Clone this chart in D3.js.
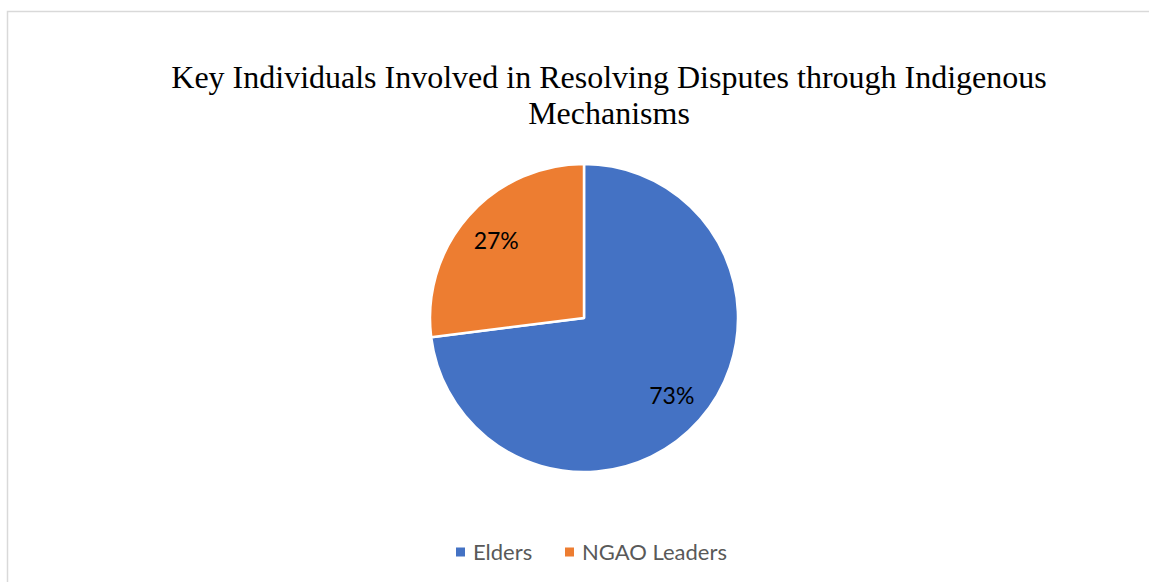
<!DOCTYPE html>
<html>
<head>
<meta charset="utf-8">
<script src="https://cdn.jsdelivr.net/npm/d3@7"></script>
<style>
  body { margin: 0; background: #fff; }
</style>
</head>
<body>
<div id="chart"></div>
<script>
var width = 1149;
var height = 582;

// chart data
var categories = ["Elders", "NGAO Leaders"];
var shares = [73, 27];
var colors = ["#4472C4", "#ED7D31"];
var titleLines = ["Key Individuals Involved in Resolving Disputes through Indigenous", "Mechanisms"];

var cx = 584, cy = 318, radius = 154;

var svg = d3.select("#chart")
    .append("svg")
    .attr("width", width)
    .attr("height", height);

// chart area border
svg.append("rect")
    .attr("x", 7.5)
    .attr("y", 11.5)
    .attr("width", width + 20)
    .attr("height", height + 20)
    .attr("fill", "#fff")
    .attr("stroke", "#D9D9D9")
    .attr("stroke-width", 1.5);

// title
svg.append("g")
    .selectAll("text")
    .data(titleLines)
    .enter()
    .append("text")
    .attr("x", 609)
    .attr("y", function (d, i) { return 87.5 + i * 36.5; })
    .attr("text-anchor", "middle")
    .style("font-family", "'Liberation Serif', 'Times New Roman', serif")
    .style("font-size", "32px")
    .style("fill", "#000")
    .text(function (d) { return d; });

var pieData = categories.map(function (c, i) {
    return { name: c, value: shares[i], color: colors[i] };
});

var pie = d3.pie()
    .sort(null)
    .value(function (d) { return d.value; });

var arc = d3.arc().innerRadius(0).outerRadius(radius);
var labelArc = d3.arc().innerRadius(117).outerRadius(117);

var g = svg.append("g")
    .attr("transform", "translate(" + cx + "," + cy + ")");

var slices = pie(pieData);

g.selectAll("path")
    .data(slices)
    .enter()
    .append("path")
    .attr("d", arc)
    .attr("fill", function (d) { return d.data.color; })
    .attr("stroke", "#fff")
    .attr("stroke-width", 2.5)
    .attr("stroke-linejoin", "round");

g.selectAll(".label")
    .data(slices)
    .enter()
    .append("text")
    .attr("class", "label")
    .attr("transform", function (d) { return "translate(" + labelArc.centroid(d) + ")"; })
    .attr("text-anchor", "middle")
    .attr("dy", "0.36em")
    .style("font-family", "Lato, 'Open Sans', sans-serif")
    .style("font-size", "23px")
    .style("fill", "#000")
    .text(function (d) { return d.data.value + "%"; });

// legend
var legendX = [456, 565];
var legend = svg.append("g")
    .selectAll("g")
    .data(pieData)
    .enter()
    .append("g")
    .attr("transform", function (d, i) { return "translate(" + legendX[i] + ",547.5)"; });

legend.append("rect")
    .attr("width", 9)
    .attr("height", 9)
    .attr("fill", function (d) { return d.color; });

legend.append("text")
    .attr("x", 17)
    .attr("y", 12)
    .style("font-family", "Lato, 'Open Sans', sans-serif")
    .style("font-size", "22px")
    .style("fill", "#595959")
    .text(function (d) { return d.name; });
</script>
</body>
</html>
